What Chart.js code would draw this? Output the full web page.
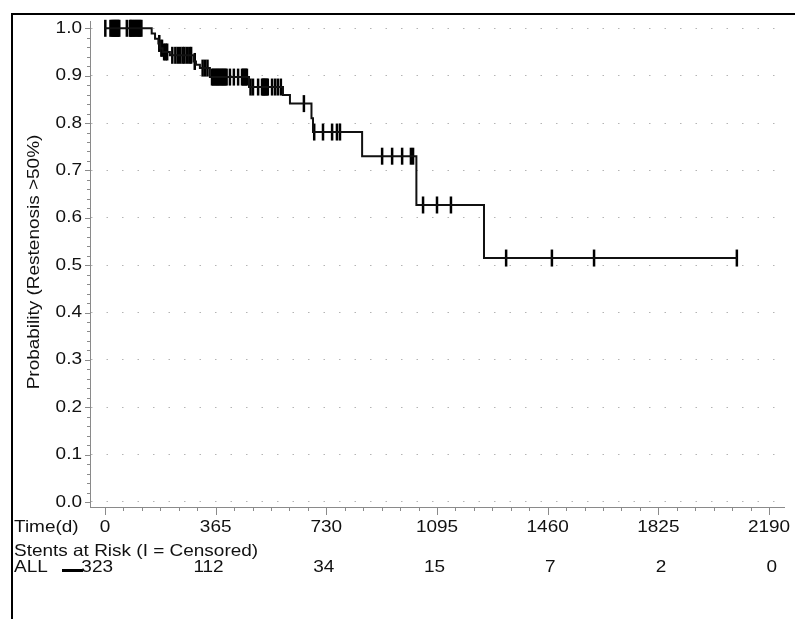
<!DOCTYPE html>
<html>
<head>
<meta charset="utf-8">
<script src="https://cdn.jsdelivr.net/npm/chart.js@4/dist/chart.umd.min.js"></script>
<style>
html,body{margin:0;padding:0;background:#fff;}
#wrap{position:relative;width:795px;height:619px;}
canvas{display:block;}
</style>
</head>
<body>
<div id="wrap"><canvas id="c" width="795" height="619"></canvas></div>
<script>
// ---- Kaplan-Meier step curve (time in days, survival after the event) ----
const eventDays = [0, 154, 165, 176, 182, 190, 214, 292, 300, 313, 346, 475, 587, 610, 681, 686, 848, 1027, 1250, 2084];
const survival  = [1.0, 0.989, 0.978, 0.968, 0.958, 0.950, 0.943, 0.930, 0.923, 0.916, 0.897, 0.876, 0.859, 0.841, 0.810, 0.781, 0.730, 0.627, 0.515, 0.515];

// ---- Censored observations ----
const censorDays = [
  1, 18, 22, 26, 29, 32, 35, 38, 41, 44, 47,
  72, 82, 85, 88, 92, 96, 100, 104, 108, 112, 116, 120,
  179, 186, 188, 195, 200, 205,
  222, 232, 240, 248, 256, 262, 270, 278, 284,
  296,
  322, 330, 338,
  353, 357, 361, 365, 369, 373, 377, 381, 385, 389, 393, 397, 401, 412, 425, 439, 452, 456, 460, 464, 468,
  480, 488, 505, 518, 521, 524, 527, 530, 534, 537, 551, 561, 570, 580,
  656,
  690, 719, 749, 765, 775,
  914, 947, 980, 1009, 1016,
  1049, 1095, 1141,
  1323, 1474, 1613, 2084
];
const censorSurv = [
  1.0, 1.0, 1.0, 1.0, 1.0, 1.0, 1.0, 1.0, 1.0, 1.0, 1.0,
  1.0, 1.0, 1.0, 1.0, 1.0, 1.0, 1.0, 1.0, 1.0, 1.0, 1.0, 1.0,
  0.968, 0.958, 0.958, 0.950, 0.950, 0.950,
  0.943, 0.943, 0.943, 0.943, 0.943, 0.943, 0.943, 0.943, 0.943,
  0.930,
  0.916, 0.916, 0.916,
  0.897, 0.897, 0.897, 0.897, 0.897, 0.897, 0.897, 0.897, 0.897, 0.897, 0.897, 0.897, 0.897, 0.897, 0.897, 0.897, 0.897, 0.897, 0.897, 0.897, 0.897,
  0.876, 0.876, 0.876, 0.876, 0.876, 0.876, 0.876, 0.876, 0.876, 0.876, 0.876, 0.876, 0.876, 0.876,
  0.841,
  0.781, 0.781, 0.781, 0.781, 0.781,
  0.730, 0.730, 0.730, 0.730, 0.730,
  0.627, 0.627, 0.627,
  0.515, 0.515, 0.515, 0.515
];

// ---- Axes / table ----
const xTickValues = [0, 365, 730, 1095, 1460, 1825, 2190];
const xTickLabels = ["0", "365", "730", "1095", "1460", "1825", "2190"];
const yTickValues = [0.0, 0.1, 0.2, 0.3, 0.4, 0.5, 0.6, 0.7, 0.8, 0.9, 1.0];
const yTickLabels = ["0.0", "0.1", "0.2", "0.3", "0.4", "0.5", "0.6", "0.7", "0.8", "0.9", "1.0"];
const atRisk = [323, 112, 34, 15, 7, 2, 0];
const groupName = "ALL";
const xTitle = "Time(d)";
const yTitle = "Probability (Restenosis >50%)";
const riskTitle = "Stents at Risk (I = Censored)";

const FONT = '16.5px "Liberation Sans", Arial, sans-serif';
const TEXT = '#111';
const AXIS = '#8a8a8a';
const SX = 1.15;

function txt(ctx, s, x, y, align, rot) {
  ctx.save();
  ctx.translate(x, y);
  if (rot) ctx.rotate(rot);
  ctx.scale(SX, 1);
  ctx.font = FONT;
  ctx.fillStyle = TEXT;
  ctx.textAlign = align;
  ctx.textBaseline = 'middle';
  ctx.fillText(s, 0, 0);
  ctx.restore();
}

const decor = {
  id: 'decor',
  beforeDraw(chart) {
    const ctx = chart.ctx;
    ctx.save();
    ctx.fillStyle = '#fff';
    ctx.fillRect(0, 0, chart.width, chart.height);
    ctx.fillStyle = '#000';
    ctx.fillRect(11, 13, 800, 2);
    ctx.fillRect(11, 13, 2, 620);
    ctx.restore();
  },
  afterDraw(chart) {
    const ctx = chart.ctx;
    const xs = chart.scales.x, ys = chart.scales.y;
    const axX = chart.chartArea.left, axY = chart.chartArea.bottom;
    ctx.save();
    ctx.strokeStyle = AXIS;
    ctx.lineWidth = 1;
    // y ticks: major every 0.1, minor every 0.02
    for (let k = 0; k <= 50; k++) {
      const py = Math.round(ys.getPixelForValue(k / 50)) + 0.5;
      const len = (k % 5 === 0) ? 5 : 3;
      ctx.beginPath(); ctx.moveTo(axX - len, py); ctx.lineTo(axX, py); ctx.stroke();
    }
    // x ticks: major every 365, minor every 365/6
    const step = xTickValues[1] - xTickValues[0];
    for (let k = 0; k <= 36; k++) {
      const px = Math.round(xs.getPixelForValue(k * step / 6)) + 0.5;
      const len = (k % 6 === 0) ? 8 : 4;
      ctx.beginPath(); ctx.moveTo(px, axY); ctx.lineTo(px, axY + len); ctx.stroke();
    }
    ctx.restore();

    // y tick labels
    yTickValues.forEach((v, i) => txt(ctx, yTickLabels[i], 82, ys.getPixelForValue(v), 'right'));
    // x tick labels
    const rowTime = 527, rowTitle = 551, rowAll = 567;
    xTickValues.forEach((v, i) => txt(ctx, xTickLabels[i], xs.getPixelForValue(v), rowTime, 'center'));
    txt(ctx, xTitle, 14, rowTime, 'left');
    // y title
    txt(ctx, yTitle, 34, 262, 'center', -Math.PI / 2);
    // risk table
    txt(ctx, riskTitle, 14, rowTitle, 'left');
    txt(ctx, groupName, 14, rowAll, 'left');
    ctx.save();
    ctx.fillStyle = '#000';
    ctx.fillRect(62, rowAll + 2, 21, 3);
    ctx.restore();
    xTickValues.forEach((v, i) => txt(ctx, String(atRisk[i]), xs.getPixelForValue(v) + 8, rowAll, 'right'));
  }
};

new Chart(document.getElementById('c'), {
  type: 'line',
  data: {
    datasets: [
      {
        label: groupName,
        data: eventDays.map((d, i) => ({ x: d, y: survival[i] })),
        stepped: true,
        borderColor: '#111',
        borderWidth: 2,
        pointRadius: 0,
        fill: false,
        clip: false
      },
      {
        label: 'Censored',
        data: censorDays.map((d, i) => ({ x: d, y: censorSurv[i] })),
        showLine: false,
        pointStyle: 'line',
        rotation: 90,
        pointRadius: 8.5,
        pointHoverRadius: 8.5,
        borderColor: '#000',
        borderWidth: 2.5,
        clip: false
      }
    ]
  },
  options: {
    responsive: false,
    animation: false,
    events: [],
    layout: { padding: { top: 21, right: 11, left: 0, bottom: 0 } },
    plugins: { legend: { display: false }, tooltip: { enabled: false } },
    scales: {
      x: {
        type: 'linear',
        min: -49.5,
        max: 2239.5,
        afterFit(s) { s.height = 112; },
        ticks: { display: false },
        grid: { display: false, drawTicks: false },
        border: { display: true, color: AXIS, width: 1 }
      },
      y: {
        type: 'linear',
        min: -0.01056,
        max: 1.01541,
        afterBuildTicks(s) { s.ticks = yTickValues.map(v => ({ value: v })); },
        afterFit(s) { s.width = 90; },
        ticks: { display: false },
        grid: { drawTicks: false, color: '#b4b4b4', lineWidth: 1 },
        border: { display: true, color: AXIS, width: 1, dash: [1.5, 14] }
      }
    }
  },
  plugins: [decor]
});
</script>
</body>
</html>
